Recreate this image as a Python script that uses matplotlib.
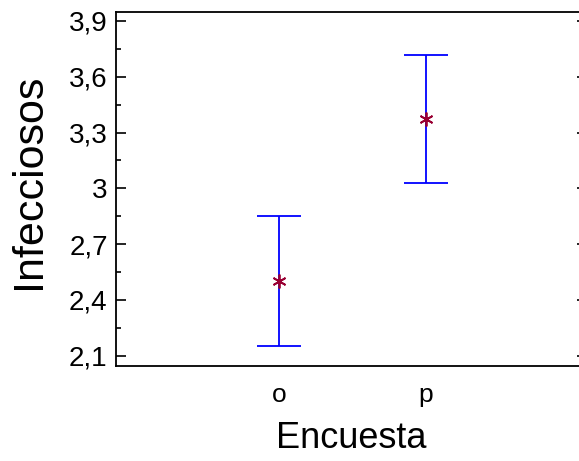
import matplotlib
matplotlib.use('Agg')
import matplotlib.pyplot as plt
from matplotlib.ticker import MultipleLocator, FixedLocator, FixedFormatter

plt.rcParams['font.family'] = ['Liberation Sans', 'DejaVu Sans']

categories = ['o', 'p']
means = [2.50, 3.373]
lower = [2.152, 3.027]
upper = [2.851, 3.719]
yticks = [2.1, 2.4, 2.7, 3.0, 3.3, 3.6, 3.9]
ytick_labels = ['2,1', '2,4', '2,7', '3', '3,3', '3,6', '3,9']

fig = plt.figure(figsize=(5.79, 4.61), dpi=100)
ax = fig.add_axes([116 / 579, 95 / 461, (587 - 116) / 579, (366 - 12) / 461])

x = [1, 2]
err_low = [m - l for m, l in zip(means, lower)]
err_high = [u - m for m, u in zip(means, upper)]
ax.errorbar(x, means, yerr=[err_low, err_high], fmt='none', ecolor='#0000ff',
            elinewidth=1.3, capsize=15.5, capthick=1.3)
ax.plot(x, means, linestyle='none', marker=(6, 2, 0), markersize=10,
        markeredgewidth=1.3, color='#990033')

ax.set_xlim(-0.11, 3.095)
ax.set_ylim(2.045, 3.948)
ax.set_xticks(x)
ax.set_xticklabels(categories, fontsize=19)
ax.tick_params(axis='x', length=0, pad=12)

ax.yaxis.set_major_locator(FixedLocator(yticks))
ax.yaxis.set_major_formatter(FixedFormatter(ytick_labels))
ax.yaxis.set_minor_locator(MultipleLocator(0.15))
ax.tick_params(axis='y', which='major', direction='in', length=7, width=1.2,
               labelsize=20, right=True, pad=6)
ax.tick_params(axis='y', which='minor', direction='in', length=3.5, width=1.2, right=True)

for s in ax.spines.values():
    s.set_linewidth(1.3)

ax.set_xlabel('Encuesta', fontsize=26, labelpad=10)
ax.set_ylabel('Infecciosos', fontsize=31)
ax.yaxis.set_label_coords(-0.143, 0.523)

fig.savefig('out.png', dpi=100)
